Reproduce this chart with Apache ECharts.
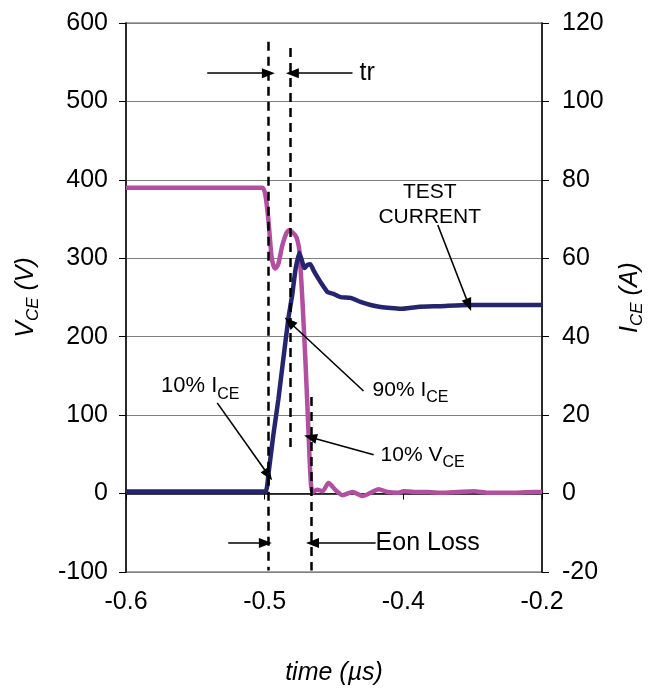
<!DOCTYPE html>
<html>
<head>
<meta charset="utf-8">
<script src="https://cdn.jsdelivr.net/npm/echarts@6/dist/echarts.min.js"></script>
<style>
html, body { margin: 0; padding: 0; background: #fff; }
#chart { width: 655px; height: 696px; }
</style>
</head>
<body>
<div id="chart"></div>
<script>
// tick labels of the time axis (evenly spaced in the original plot)
var timeTicks = ['-0.6', '-0.5', '-0.4', '-0.2'];

// V_CE trace (time in µs, volts)
var vceTime = [-0.6, -0.55, -0.5, -0.4689, -0.4660, -0.4631, -0.4602, -0.4583, -0.4564, -0.4535,
    -0.4496, -0.4458, -0.4429, -0.4400, -0.4371, -0.4352, -0.4333, -0.4304, -0.4275, -0.4246,
    -0.4227, -0.4207, -0.4159, -0.4111, -0.4053, -0.3986, -0.3918, -0.3822, -0.3725, -0.3648,
    -0.3571, -0.3484, -0.3388, -0.3330, -0.3234, -0.3099, -0.2973, -0.2810, -0.2655, -0.2520,
    -0.2328, -0.2077, -0.2];
var vceVolts = [390, 390, 390, 390, 381, 349, 304, 291, 287, 293,
    317, 332, 336, 333, 329, 323, 310, 247, 170, 81,
    24, 2, 5, 3, 13.5, 4.6, -2, 2, -3, 1,
    5.6, 2, 1, 3, 2, 2, 1, 2, 3, 1,
    1, 2, 2];

// I_CE trace (time in µs, amps)
var iceTime = [-0.6, -0.5, -0.4660, -0.4631, -0.4583, -0.4535, -0.4487, -0.4439, -0.4400, -0.4371,
    -0.4333, -0.4304, -0.4284, -0.4255, -0.4227, -0.4198, -0.4159, -0.4111, -0.4063, -0.4005,
    -0.3937, -0.3841, -0.3745, -0.3648, -0.3552, -0.3455, -0.3359, -0.3195, -0.2973, -0.2713,
    -0.2395, -0.2];
var iceAmps = [0.5, 0.5, 0.5, 4.9, 15, 24, 34.4, 44.6, 51, 57,
    61.4, 59, 57.5, 58.3, 58.5, 57, 55.2, 53.2, 51.4, 50.9,
    50.1, 49.9, 48.9, 48.1, 47.6, 47.3, 47.1, 47.6, 47.8, 48.1,
    48.1, 48.1];

// dashed marker lines (time, V from, V to)
var markerTime = [-0.4631, -0.4424, -0.4222];
var markerTop = [576, 568, 123];
var markerBottom = [-98, 53, -98];

// arrows [time, V] -> [time, V], head at the end
var arrowFrom = [[-0.5219, 536], [-0.3822, 536], [-0.5123, 115.6], [-0.3716, 130.8],
    [-0.3619, 49.5], [-0.3002, 342.5], [-0.5017, -63], [-0.3600, -63]];
var arrowTo = [[-0.4631, 536], [-0.4400, 536], [-0.4631, 23.7], [-0.4429, 218.8],
    [-0.4227, 71.9], [-0.2704, 240.5], [-0.4660, -63], [-0.4207, -63]];

// annotation texts
var noteText = ['tr', 'TEST\nCURRENT', '10% I{s|CE}', '90% I{s|CE}', '10% V{s|CE}', 'Eon Loss'];
var noteAt = [[-0.3754, 536], [-0.3079, 368], [-0.5663, 137], [-0.3629, 132], [-0.3552, 49.5], [-0.3600, -63]];
var noteAlign = ['left', 'center', 'left', 'left', 'left', 'left'];
var noteSize = [25, 21, 22, 21, 21, 25];

var FONT = '"Liberation Sans", Arial, sans-serif';

function pairs(xs, ys) {
    var out = [];
    for (var i = 0; i < xs.length; i++) out.push([xs[i], ys[i]]);
    return out;
}

var markLines = [];
for (var i = 0; i < markerTime.length; i++) {
    markLines.push([
        { coord: [markerTime[i], markerTop[i]], symbol: 'none' },
        { coord: [markerTime[i], markerBottom[i]], symbol: 'none',
          lineStyle: { type: [9, 6], width: 2.5, color: '#000' } }
    ]);
}
for (var j = 0; j < arrowFrom.length; j++) {
    markLines.push([
        { coord: arrowFrom[j], symbol: 'none' },
        { coord: arrowTo[j], symbol: 'triangle', symbolSize: [10, 13],
          lineStyle: { type: 'solid', width: 1.6, color: '#000' } }
    ]);
}

var subRich = {
    s: { fontSize: 16, lineHeight: 16, verticalAlign: 'bottom', fontFamily: FONT, color: '#000' }
};

var notes = [];
for (var k = 0; k < noteText.length; k++) {
    notes.push({
        coord: noteAt[k],
        label: {
            show: true,
            formatter: noteText[k],
            align: noteAlign[k],
            verticalAlign: 'middle',
            fontSize: noteSize[k],
            lineHeight: k === 1 ? 25 : 32,
            fontFamily: FONT,
            color: '#000',
            rich: subRich
        }
    });
}

var chart = echarts.init(document.getElementById('chart'), null, { renderer: 'canvas' });

chart.setOption({
    animation: false,
    backgroundColor: '#fff',
    textStyle: { fontFamily: FONT },
    grid: { left: 126, right: 113, top: 23, bottom: 124, show: true, borderColor: '#8c8c8c', borderWidth: 1.5 },
    xAxis: [
        {
            type: 'value', min: -0.6, max: -0.2, show: false
        },
        {
            type: 'category', data: timeTicks, boundaryGap: false, position: 'bottom',
            name: 'time (µs)', nameLocation: 'middle', nameGap: 89,
            nameTextStyle: { fontSize: 25, fontStyle: 'italic', color: '#000', fontFamily: FONT },
            axisLine: { lineStyle: { color: '#000', width: 1.5 } },
            axisTick: { show: true, length: 6, alignWithLabel: true, lineStyle: { color: '#000' } },
            axisLabel: { fontSize: 25, color: '#000', margin: 18, fontFamily: FONT },
            splitLine: { show: false }
        }
    ],
    yAxis: [
        {
            type: 'value', min: -100, max: 600, interval: 100, position: 'left',
            name: '{v|V}{s|CE}{v| (V)}', nameLocation: 'middle', nameGap: 84, nameRotate: 90,
            nameTextStyle: {
                fontSize: 25, fontStyle: 'italic', color: '#000', fontFamily: FONT,
                rich: {
                    v: { fontSize: 25, lineHeight: 32, fontStyle: 'italic', fontFamily: FONT, color: '#000' },
                    s: { fontSize: 17, lineHeight: 17, verticalAlign: 'bottom', fontStyle: 'italic', fontFamily: FONT, color: '#000' }
                }
            },
            axisLine: { show: true, lineStyle: { color: '#000', width: 1.5 } },
            axisTick: { show: true, length: 7, lineStyle: { color: '#000' } },
            axisLabel: { fontSize: 25, color: '#000', margin: 18, fontFamily: FONT },
            splitLine: { show: true, lineStyle: { color: '#7f7f7f', width: 1 } }
        },
        {
            type: 'value', min: -20, max: 120, interval: 20, position: 'right',
            name: '{v|I}{s|CE}{v| (A)}', nameLocation: 'middle', nameGap: 72, nameRotate: 90,
            nameTextStyle: {
                fontSize: 25, fontStyle: 'italic', color: '#000', fontFamily: FONT,
                rich: {
                    v: { fontSize: 25, lineHeight: 32, fontStyle: 'italic', fontFamily: FONT, color: '#000' },
                    s: { fontSize: 17, lineHeight: 17, verticalAlign: 'bottom', fontStyle: 'italic', fontFamily: FONT, color: '#000' }
                }
            },
            axisLine: { show: true, lineStyle: { color: '#000', width: 1.5 } },
            axisTick: { show: true, length: 7, lineStyle: { color: '#000' } },
            axisLabel: { fontSize: 25, color: '#000', margin: 20, fontFamily: FONT },
            splitLine: { show: false }
        }
    ],
    series: [
        {
            name: 'VCE', type: 'line', xAxisIndex: 0, yAxisIndex: 0,
            data: pairs(vceTime, vceVolts),
            smooth: 0.25, symbol: 'none',
            lineStyle: { color: '#b24fa1', width: 4.5 },
            z: 2
        },
        {
            name: 'ICE', type: 'line', xAxisIndex: 0, yAxisIndex: 1,
            data: pairs(iceTime, iceAmps),
            smooth: 0.15, symbol: 'none',
            lineStyle: { color: '#25256f', width: 4.5 },
            z: 3
        },
        {
            // annotations: dashed markers, arrows and texts
            name: 'notes', type: 'line', xAxisIndex: 0, yAxisIndex: 0,
            data: [], z: 5, silent: true,
            markLine: {
                silent: true, animation: false,
                label: { show: false },
                lineStyle: { color: '#000', width: 1.6, type: 'solid' },
                symbol: ['none', 'none'],
                data: markLines
            },
            markPoint: {
                silent: true, animation: false,
                symbol: 'circle', symbolSize: 0,
                itemStyle: { color: 'transparent' },
                data: notes
            }
        }
    ]
});
</script>
</body>
</html>
